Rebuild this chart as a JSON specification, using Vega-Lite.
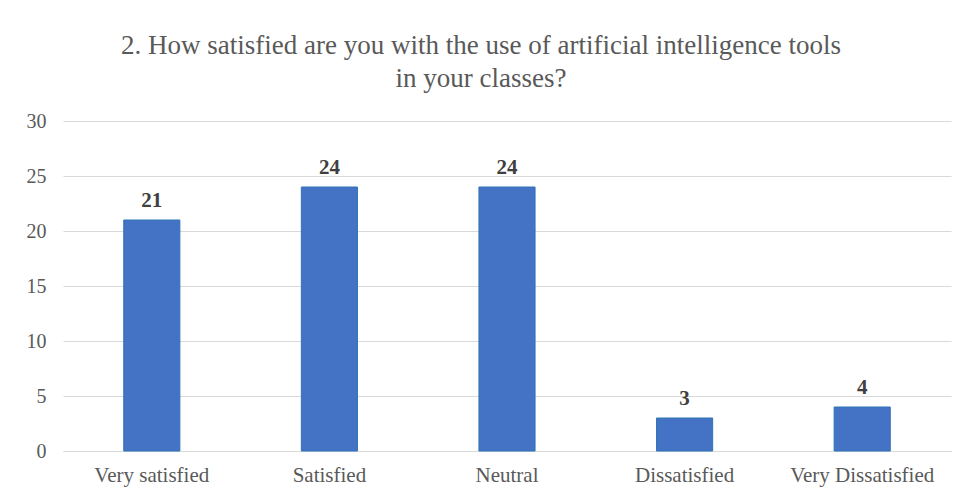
{
  "$schema": "https://vega.github.io/schema/vega-lite/v6.json",
  "autosize": {"type": "none"},
  "width": 888,
  "height": 330,
  "padding": {"left": 63, "top": 121, "right": 11, "bottom": 44},
  "background": "white",
  "title": {
    "text": ["2. How satisfied are you with the use of artificial intelligence tools", "in your classes?"],
    "font": "Liberation Serif",
    "fontSize": 27,
    "fontWeight": "normal",
    "color": "#595959",
    "lineHeight": 33,
    "anchor": "middle",
    "dx": -26,
    "offset": 18
  },
  "data": {
    "values": [
      {"category": "Very satisfied", "count": 21},
      {"category": "Satisfied", "count": 24},
      {"category": "Neutral", "count": 24},
      {"category": "Dissatisfied", "count": 3},
      {"category": "Very Dissatisfied", "count": 4}
    ]
  },
  "encoding": {
    "x": {
      "field": "category",
      "type": "nominal",
      "sort": null,
      "scale": {"paddingInner": 0.684, "paddingOuter": 0.342},
      "axis": {
        "title": null,
        "labelAngle": 0,
        "ticks": false,
        "domain": true,
        "domainColor": "#D9D9D9",
        "domainWidth": 1,
        "labelFont": "Liberation Serif",
        "labelFontSize": 21,
        "labelColor": "#595959",
        "labelPadding": 13
      }
    },
    "y": {
      "field": "count",
      "type": "quantitative",
      "scale": {"domain": [0, 30], "nice": false},
      "axis": {
        "title": null,
        "values": [0, 5, 10, 15, 20, 25, 30],
        "ticks": false,
        "domain": false,
        "grid": true,
        "gridColor": "#D9D9D9",
        "gridWidth": 1,
        "labelFont": "Liberation Serif",
        "labelFontSize": 20,
        "labelColor": "#595959",
        "labelPadding": 17
      }
    }
  },
  "layer": [
    {
      "mark": {"type": "bar", "color": "#4472C4", "stroke": "#2E75B6", "strokeWidth": 1}
    },
    {
      "mark": {
        "type": "text",
        "baseline": "alphabetic",
        "dy": -13,
        "font": "Liberation Serif",
        "fontSize": 21,
        "fontWeight": "bold",
        "color": "#404040"
      },
      "encoding": {"text": {"field": "count", "type": "quantitative"}}
    }
  ],
  "config": {"view": {"stroke": null}}
}
